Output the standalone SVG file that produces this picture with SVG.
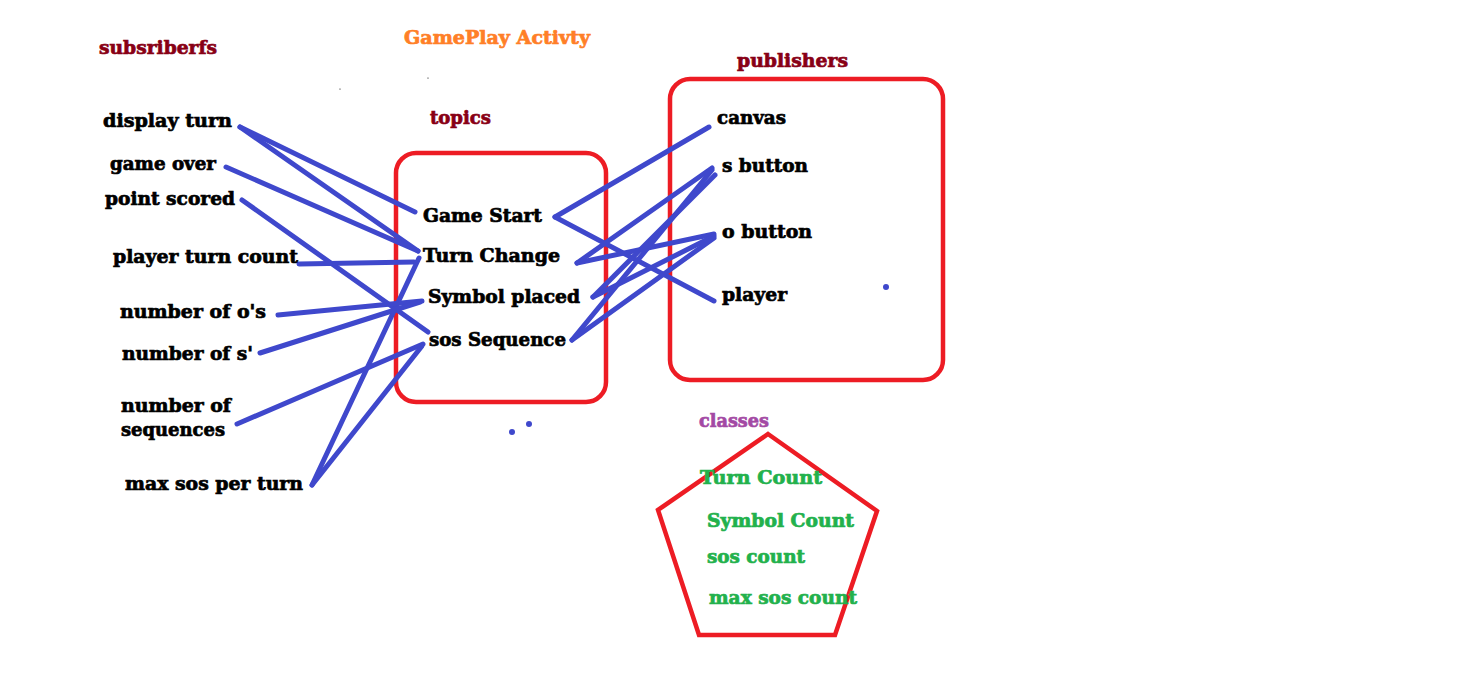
<svg xmlns="http://www.w3.org/2000/svg" width="1482" height="683" viewBox="0 0 1482 683">
<style>
text{font-family:"DejaVu Serif","Liberation Serif",serif;font-weight:bold;font-size:18.5px;stroke-width:0.7px}
.t{fill:#000;stroke:#000}
.h{fill:#880015;stroke:#880015}
.o{fill:#ff7f27;stroke:#ff7f27}
.p{fill:#a349a4;stroke:#a349a4}
.g{fill:#22b14c;stroke:#22b14c}
.c line{stroke:#3f48cc;stroke-width:5;stroke-linecap:round}
.box{fill:none;stroke:#ed1c24;stroke-width:4.5}
.dot{fill:#3f48cc}
</style>
<rect width="1482" height="683" fill="#fff"/>
<g id="titles">
<text class="h" x="99" y="54" textLength="118" lengthAdjust="spacingAndGlyphs">subsriberfs</text>
<text class="o" x="404" y="44" textLength="186" lengthAdjust="spacingAndGlyphs">GamePlay Activty</text>
<text class="h" x="430" y="124" textLength="61" lengthAdjust="spacingAndGlyphs">topics</text>
<text class="h" x="737" y="67" textLength="111" lengthAdjust="spacingAndGlyphs">publishers</text>
<text class="p" x="699" y="427" textLength="70" lengthAdjust="spacingAndGlyphs">classes</text>
</g>
<g id="topics-box"><rect class="box" x="396" y="153" width="210" height="249" rx="20"/></g>
<g id="publishers-box"><rect class="box" x="670" y="79" width="273" height="301" rx="20"/></g>
<g id="classes-box"><polygon class="box" points="768,434 877,511 835,635 699,635 658,510"/></g>
<g class="c" id="connectors">
<line x1="240" y1="127" x2="415" y2="212"/>
<line x1="240" y1="127" x2="418" y2="251"/>
<line x1="226" y1="167" x2="418" y2="251"/>
<line x1="242" y1="200" x2="428" y2="332"/>
<line x1="299" y1="264" x2="414" y2="262"/>
<line x1="419" y1="258" x2="312" y2="485"/>
<line x1="278" y1="315" x2="422" y2="301"/>
<line x1="260" y1="353" x2="420" y2="302"/>
<line x1="237" y1="424" x2="423" y2="344"/>
<line x1="312" y1="485" x2="422" y2="346"/>
<line x1="555" y1="217" x2="709" y2="127"/>
<line x1="555" y1="217" x2="714" y2="301"/>
<line x1="577" y1="263" x2="712" y2="168"/>
<line x1="577" y1="263" x2="714" y2="234"/>
<line x1="593" y1="297" x2="715" y2="175"/>
<line x1="593" y1="297" x2="714" y2="236"/>
<line x1="572" y1="340" x2="712" y2="170"/>
<line x1="572" y1="340" x2="714" y2="238"/>
</g>
<g id="dots">
<circle class="dot" cx="886" cy="287" r="3"/>
<circle class="dot" cx="512" cy="432" r="3"/>
<circle class="dot" cx="529" cy="424" r="3"/>
<circle cx="340" cy="89" r="0.6" fill="#000"/>
<circle cx="428" cy="78" r="0.6" fill="#000"/>
</g>
<g id="subscribers">
<text class="t" x="103" y="127" textLength="129" lengthAdjust="spacingAndGlyphs">display turn</text>
<text class="t" x="110" y="170" textLength="106" lengthAdjust="spacingAndGlyphs">game over</text>
<text class="t" x="105" y="205" textLength="130" lengthAdjust="spacingAndGlyphs">point scored</text>
<text class="t" x="113" y="263" textLength="185" lengthAdjust="spacingAndGlyphs">player turn count</text>
<text class="t" x="120" y="318" textLength="146" lengthAdjust="spacingAndGlyphs">number of o's</text>
<text class="t" x="122" y="360" textLength="131" lengthAdjust="spacingAndGlyphs">number of s'</text>
<text class="t" x="121" y="412" textLength="110" lengthAdjust="spacingAndGlyphs">number of</text>
<text class="t" x="121" y="436" textLength="104" lengthAdjust="spacingAndGlyphs">sequences</text>
<text class="t" x="125" y="490" textLength="178" lengthAdjust="spacingAndGlyphs">max sos per turn</text>
</g>
<g id="topics">
<text class="t" x="423" y="222" textLength="119" lengthAdjust="spacingAndGlyphs">Game Start</text>
<text class="t" x="423" y="262" textLength="137" lengthAdjust="spacingAndGlyphs">Turn Change</text>
<text class="t" x="428" y="303" textLength="152" lengthAdjust="spacingAndGlyphs">Symbol placed</text>
<text class="t" x="429" y="346" textLength="137" lengthAdjust="spacingAndGlyphs">sos Sequence</text>
</g>
<g id="publishers">
<text class="t" x="717" y="124" textLength="69" lengthAdjust="spacingAndGlyphs">canvas</text>
<text class="t" x="722" y="172" textLength="86" lengthAdjust="spacingAndGlyphs">s button</text>
<text class="t" x="722" y="238" textLength="90" lengthAdjust="spacingAndGlyphs">o button</text>
<text class="t" x="722" y="301" textLength="65" lengthAdjust="spacingAndGlyphs">player</text>
</g>
<g id="classes">
<text class="g" x="700" y="484" textLength="122" lengthAdjust="spacingAndGlyphs">Turn Count</text>
<text class="g" x="707" y="527" textLength="147" lengthAdjust="spacingAndGlyphs">Symbol Count</text>
<text class="g" x="707" y="563" textLength="98" lengthAdjust="spacingAndGlyphs">sos count</text>
<text class="g" x="709" y="604" textLength="148" lengthAdjust="spacingAndGlyphs">max sos count</text>
</g>
</svg>
